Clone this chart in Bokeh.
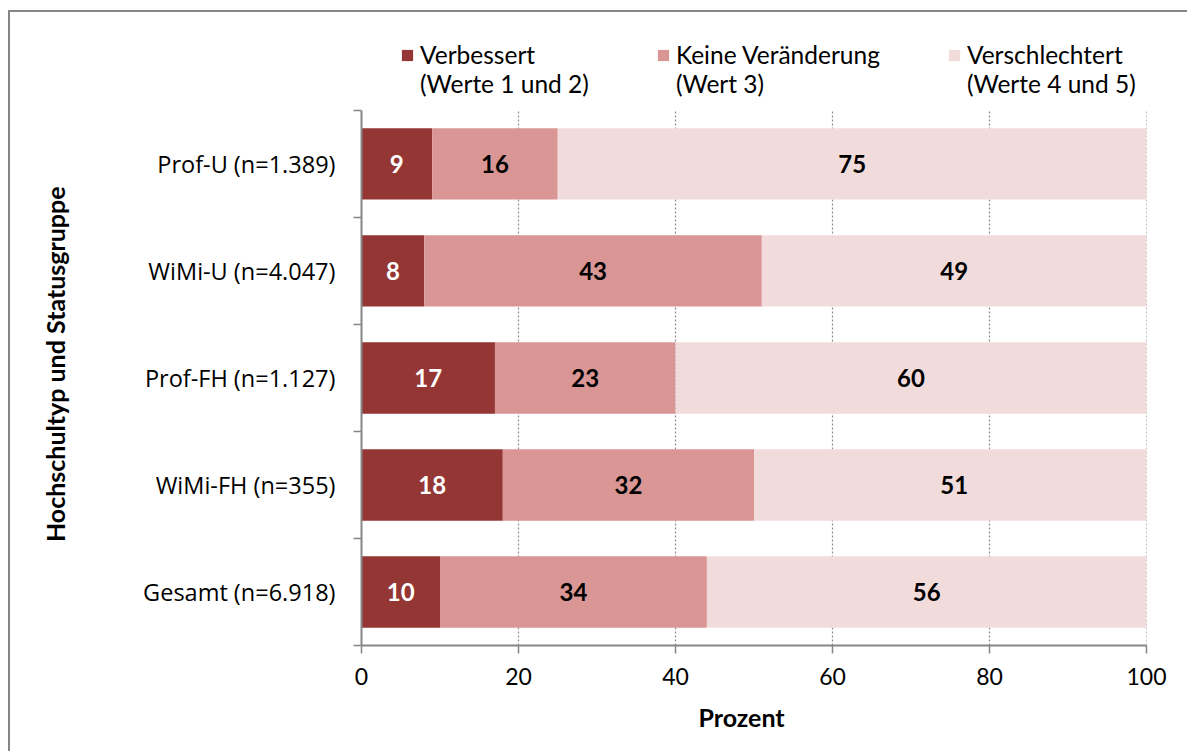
from bokeh.plotting import figure
from bokeh.models import FixedTicker, Legend, LegendItem, ColumnDataSource
from bokeh.core.properties import value
from bokeh.embed import file_html
from bokeh.resources import INLINE

# Data
groups = ["Prof-U (n=1.389)", "WiMi-U (n=4.047)", "Prof-FH (n=1.127)",
          "WiMi-FH (n=355)", "Gesamt (n=6.918)"]
verbessert = [9, 8, 17, 18, 10]
keine_veraenderung = [16, 43, 23, 32, 34]
verschlechtert = [75, 49, 60, 51, 56]
series_names = ["Verbessert", "Keine Veränderung", "Verschlechtert"]
series_notes = ["(Werte 1 und 2)", "(Wert 3)", "(Werte 4 und 5)"]
x_ticks = [0, 20, 40, 60, 80, 100]

colors = ["#943634", "#D99694", "#F2DCDB"]
label_colors = ["white", "black", "black"]
CAL = "Lato"
SEG = "Open Sans"
AXIS_GREY = "#868686"

# the page frame line sits OFF_X / OFF_Y px in from the window corner
OFF_X, OFF_Y, FRAME_W = 8, 10, 2
W, H = 1187 - OFF_X, 751 - OFF_Y
HEADROOM = 0.84  # category units above the bars, where the legend sits
EN = "\u2002"    # en space, used to nudge the axis titles off-centre

n = len(groups)
ypos = [n - i - 0.5 for i in range(n)]  # first group on top

p = figure(width=W, height=H, x_range=(0, 100), y_range=(0, n + HEADROOM),
           output_backend="svg", toolbar_location=None,
           min_border_left=361 - OFF_X - FRAME_W, min_border_right=43,
           min_border_top=8, min_border_bottom=108)
p.margin = (OFF_Y, 0, 0, OFF_X)
p.styles = {"border-left": f"{FRAME_W}px solid {AXIS_GREY}",
            "border-top": f"{FRAME_W}px solid {AXIS_GREY}"}
p.outline_line_color = None
p.background_fill_color = "white"
p.border_fill_color = "white"

# dotted vertical guides, limited to the bar area
p.xgrid.grid_line_color = None
p.ygrid.grid_line_color = None
gx = x_ticks[1:]
p.segment(x0=gx, y0=[0] * len(gx), x1=gx, y1=[n] * len(gx),
          line_color="#8c8c8c", line_dash="2 2", line_width=1.2)

series = [verbessert, keine_veraenderung, verschlechtert]
left = [0] * n
renderers = []
for vals, col, lcol in zip(series, colors, label_colors):
    right = [a + b for a, b in zip(left, vals)]
    src = ColumnDataSource(dict(y=ypos, left=left, right=right,
                                mid=[(a + b) / 2 for a, b in zip(left, right)],
                                txt=[str(v) for v in vals]))
    r = p.hbar(y="y", left="left", right="right", height=0.667, source=src,
               fill_color=col, line_color=None)
    p.text(x="mid", y="y", text="txt", source=src, text_align="center",
           text_baseline="middle", text_color=lcol, text_font=value(CAL),
           text_font_style="bold", text_font_size="24px")
    renderers.append(r)
    left = right

# x axis
xa = p.xaxis[0]
xa.ticker = FixedTicker(ticks=x_ticks)
xa.axis_line_color = AXIS_GREY
xa.axis_line_width = 2
xa.major_tick_line_color = AXIS_GREY
xa.major_tick_line_width = 1.5
xa.major_tick_out = 8
xa.major_tick_in = 0
xa.minor_tick_line_color = None
xa.major_label_standoff = 14
xa.major_label_text_font = CAL
xa.major_label_text_font_size = "23px"
xa.major_label_text_color = "black"
xa.axis_label = "Prozent" + EN * 2
xa.axis_label_text_font = CAL
xa.axis_label_text_font_style = "bold"
xa.axis_label_text_font_size = "25px"
xa.axis_label_text_color = "black"
xa.axis_label_standoff = 14

# y axis: labels at category centres, ticks at category boundaries
ya = p.yaxis[0]
ya.bounds = (0, n)
ya.ticker = FixedTicker(ticks=ypos, minor_ticks=list(range(n + 1)))
ya.major_label_overrides = {y: g for y, g in zip(ypos, groups)}
ya.axis_line_color = AXIS_GREY
ya.axis_line_width = 2
ya.major_tick_line_color = None
ya.major_tick_out = 0
ya.major_tick_in = 0
ya.minor_tick_line_color = AXIS_GREY
ya.minor_tick_line_width = 1.5
ya.minor_tick_out = 8
ya.minor_tick_in = 0
ya.major_label_standoff = 18
ya.major_label_text_font = SEG
ya.major_label_text_font_size = "23.5px"
ya.major_label_text_color = "black"
ya.axis_label = "Hochschultyp und Statusgruppe" + EN * 5
ya.axis_label_text_font = CAL
ya.axis_label_text_font_style = "bold"
ya.axis_label_text_font_size = "25px"
ya.axis_label_text_color = "black"
ya.axis_label_standoff = 70

# legend: an empty leading line keeps each swatch level with the series name
legend = Legend(items=[LegendItem(label="\n" + a + "\n" + b, renderers=[r])
                       for a, b, r in zip(series_names, series_notes, renderers)],
                orientation="horizontal", location=(39, 547),
                glyph_width=14, glyph_height=14, label_standoff=6,
                spacing=67, padding=0, margin=0,
                label_text_font=CAL, label_text_font_size="24.5px",
                label_text_line_height=1.35, label_text_color="black",
                border_line_color=None, background_fill_alpha=0)
p.add_layout(legend, "center")

open("out.html", "w").write(file_html(p, INLINE))
